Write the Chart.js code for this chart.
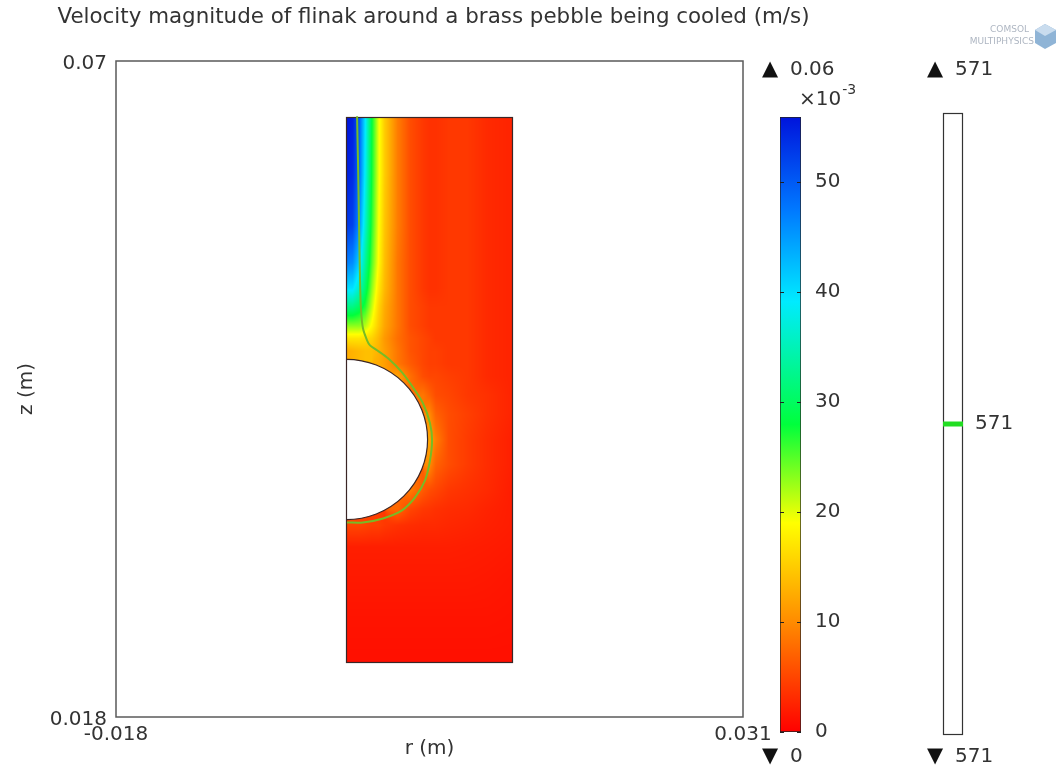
<!DOCTYPE html>
<html>
<head>
<meta charset="utf-8">
<script src="https://cdn.jsdelivr.net/npm/chart.js@4.4.1/dist/chart.umd.min.js"></script>
<style>
  html, body { margin: 0; padding: 0; background: #fff; }
  #wrap { position: relative; width: 1056px; height: 771px; overflow: hidden; }
  #wrap canvas { position: absolute; top: 0; }
</style>
</head>
<body>
<div id="wrap">
  <canvas id="plot" width="1056" height="771" style="left:0"></canvas>
  <canvas id="speedBar" width="120" height="771" style="left:760px"></canvas>
  <canvas id="levelBar" width="120" height="771" style="left:920px"></canvas>
</div>
<script>
/* ---------- axes and geometry (m) ---------- */
const rLimits = [-0.018, 0.031];
const zLimits = [0.018, 0.07];
const domainR = [0, 0.013];
const domainZ = [0.0223, 0.0656];
const pebbleCentre = [0, 0.04];
const pebbleRadius = 0.00635;

/* ---------- velocity magnitude samples ---------- */
// r and z in mm, speed in 1e-3 m/s; null = inside the pebble
const gridR = [0, 0.5, 1, 1.5, 2, 2.5, 3, 4, 5, 6, 6.5, 7, 8, 9.5, 11, 13];
const gridZ = [65.6, 61, 57, 54, 52, 50.5, 49, 48, 47, 46, 45, 43.5, 42, 40, 38, 36, 34.5, 33.2, 31.5, 29, 26, 22.3];
const n = null;
const speed = [
  [56, 55, 50, 39, 28, 20, 15, 9, 5.5, 4, 3.5, 3.5, 4, 4, 3, 2.5],
  [55, 54, 49, 38, 27.5, 20, 15, 9, 5.5, 4, 3.5, 3.5, 4, 4, 3, 2.5],
  [53, 52, 46, 36, 26.5, 19.5, 14.5, 9, 5.5, 4, 3.5, 3.5, 4, 4, 3, 2.5],
  [47, 46, 41, 33, 25, 19, 14, 8.5, 5.5, 4, 3.5, 3.5, 4, 4, 3, 2.5],
  [40, 40, 36, 30, 23, 17.5, 13.5, 8.5, 5.5, 4, 3.5, 3.5, 4, 4, 3, 2.5],
  [32, 32, 30, 26.5, 21, 16, 12.5, 8.5, 5.5, 4.5, 4, 4, 4, 4, 3, 2.5],
  [23, 23, 23, 21.5, 18.5, 15, 12, 8.5, 5.5, 4.5, 4, 4, 4, 4, 3, 2.5],
  [17, 17, 17, 16.5, 15.5, 13.5, 11, 8, 6, 5, 4.5, 4, 4, 4, 3, 2.5],
  [12.5, 13, 13.5, 14, 14, 13, 11.5, 8.5, 6, 5, 4.5, 4.5, 4, 4, 3, 2.5],
  [n, n, n, n, n, 12.5, 11.5, 8.5, 6.5, 5, 4.5, 4.5, 4, 4, 3, 2.5],
  [n, n, n, n, n, n, n, 12, 8, 5.5, 5, 5, 4.5, 4, 3, 2.5],
  [n, n, n, n, n, n, n, n, n, 8.5, 7, 5.5, 5, 4, 3.5, 2.5],
  [n, n, n, n, n, n, n, n, n, n, 10, 7, 5.5, 4.5, 3.5, 2.5],
  [n, n, n, n, n, n, n, n, n, n, 12, 9, 5.5, 4.2, 3.2, 2.2],
  [n, n, n, n, n, n, n, n, n, n, 10, 7, 5.5, 4.2, 3.2, 2.2],
  [n, n, n, n, n, n, n, n, 9, 6.5, 5.5, 5, 4, 3.5, 3, 2],
  [n, n, n, n, n, n, n, 7.5, 5, 4, 3.8, 3.5, 3.2, 3, 2.5, 2],
  [5, 5, 5, 4.8, 4.5, 4.5, 4, 3.5, 3.2, 3, 3, 3, 2.8, 2.6, 2.3, 2],
  [2.2, 2.2, 2.2, 2.2, 2.2, 2.2, 2.2, 2.2, 2.2, 2.2, 2.2, 2.2, 2.2, 2.1, 2, 1.8],
  [1.8, 1.8, 1.8, 1.8, 1.8, 1.8, 1.8, 1.8, 1.8, 1.8, 1.8, 1.8, 1.8, 1.8, 1.7, 1.5],
  [1.4, 1.4, 1.4, 1.4, 1.4, 1.4, 1.4, 1.4, 1.4, 1.4, 1.4, 1.4, 1.4, 1.4, 1.4, 1.3],
  [1.1, 1.1, 1.1, 1.1, 1.1, 1.1, 1.1, 1.1, 1.1, 1.1, 1.1, 1.1, 1.1, 1.1, 1.1, 1.1]
];
const speedRange = [0, 55.9];
const speedTicks = [0, 10, 20, 30, 40, 50];

/* ---------- temperature contour (K) ---------- */
const contourLevels = [571];
const contourR = [0.00084, 0.00091, 0.00099, 0.00107, 0.00115, 0.0013, 0.00162, 0.00185, 0.0024, 0.00326,
  0.00435, 0.00521, 0.00599, 0.00654, 0.0067, 0.00654, 0.00615, 0.00537, 0.00435, 0.00287, 0.0013, 0.00005];
const contourZ = [0.06562, 0.06213, 0.05737, 0.05262, 0.05024, 0.04881, 0.04786, 0.04746, 0.04707, 0.04643,
  0.04532, 0.04413, 0.04287, 0.04128, 0.03993, 0.03834, 0.03676, 0.03541, 0.03438, 0.03374, 0.03342, 0.03342];

/* ---------- styling ---------- */
const FONT = 'DejaVu Sans';
const INK = '#333';
const TITLE = 'Velocity magnitude of flinak around a brass pebble being cooled (m/s)';
// rainbow, red at zero speed to blue at the maximum
const cmap = [
  [0, [255, 0, 0]],
  [0.18, [255, 140, 0]],
  [0.34, [255, 255, 0]],
  [0.5, [0, 255, 60]],
  [0.7, [0, 235, 255]],
  [0.85, [0, 120, 255]],
  [1, [0, 20, 220]]
];

function speedColour(v) {
  let t = (v - speedRange[0]) / (speedRange[1] - speedRange[0]);
  t = Math.max(0, Math.min(1, t));
  for (let i = 0; i < cmap.length - 1; i++) {
    const [t0, c0] = cmap[i], [t1, c1] = cmap[i + 1];
    if (t <= t1) {
      const f = (t - t0) / (t1 - t0);
      return c0.map((c, k) => Math.round(c + (c1[k] - c) * f));
    }
  }
  return cmap[cmap.length - 1][1];
}

function bracket(grid, v) {
  const lo = Math.min(grid[0], grid[grid.length - 1]);
  const hi = Math.max(grid[0], grid[grid.length - 1]);
  v = Math.max(lo, Math.min(hi, v));
  for (let i = 0; i < grid.length - 1; i++) {
    const a = grid[i], b = grid[i + 1];
    if ((v - a) * (v - b) <= 0) return [i, (v - a) / (b - a)];
  }
  return [grid.length - 2, 1];
}

// bilinear shading between samples, skipping the ones inside the pebble
function sampleSpeed(r, z) {
  const [i, fr] = bracket(gridR, r);
  const [j, fz] = bracket(gridZ, z);
  const corners = [
    [speed[j][i], (1 - fr) * (1 - fz)],
    [speed[j][i + 1], fr * (1 - fz)],
    [speed[j + 1][i], (1 - fr) * fz],
    [speed[j + 1][i + 1], fr * fz]
  ];
  let sum = 0, wsum = 0;
  for (const [v, w] of corners) {
    if (v === null) continue;
    sum += v * w; wsum += w;
  }
  return wsum > 1e-9 ? sum / wsum : null;
}

function pebblePath(ctx, x, y) {
  const cx = x.getPixelForValue(pebbleCentre[0]);
  const cy = y.getPixelForValue(pebbleCentre[1]);
  const rx = x.getPixelForValue(pebbleCentre[0] + pebbleRadius) - cx;
  const ry = cy - y.getPixelForValue(pebbleCentre[1] + pebbleRadius);
  ctx.beginPath();
  ctx.ellipse(cx, cy, rx, ry, 0, -Math.PI / 2, Math.PI / 2);
}

const surfacePlugin = {
  id: 'surface',
  beforeDatasetsDraw(chart) {
    const { ctx, chartArea: a, scales: { x, y } } = chart;
    // plot frame
    ctx.save();
    ctx.strokeStyle = '#5a5a5a';
    ctx.lineWidth = 1.5;
    ctx.strokeRect(a.left, a.top, a.right - a.left, a.bottom - a.top);

    // velocity surface
    const x0 = Math.round(x.getPixelForValue(domainR[0]));
    const x1 = Math.round(x.getPixelForValue(domainR[1]));
    const y0 = Math.round(y.getPixelForValue(domainZ[1]));
    const y1 = Math.round(y.getPixelForValue(domainZ[0]));
    const w = x1 - x0, h = y1 - y0;
    const off = document.createElement('canvas');
    off.width = w; off.height = h;
    const octx = off.getContext('2d');
    const img = octx.createImageData(w, h);
    for (let j = 0; j < h; j++) {
      const z = y.getValueForPixel(y0 + j + 0.5) * 1000;
      for (let i = 0; i < w; i++) {
        const r = x.getValueForPixel(x0 + i + 0.5) * 1000;
        const v = sampleSpeed(r, z);
        if (v === null) continue;
        const c = speedColour(v);
        const k = (j * w + i) * 4;
        img.data[k] = c[0]; img.data[k + 1] = c[1]; img.data[k + 2] = c[2]; img.data[k + 3] = 255;
      }
    }
    octx.putImageData(img, 0, 0);
    ctx.drawImage(off, x0, y0);

    // pebble cut-out and domain boundary
    ctx.fillStyle = '#fff';
    pebblePath(ctx, x, y);
    ctx.closePath();
    ctx.fill();
    ctx.strokeStyle = '#3b2626';
    ctx.lineWidth = 1.2;
    ctx.strokeRect(x0 + 0.5, y0 + 0.5, w - 1, h - 1);
    pebblePath(ctx, x, y);
    ctx.stroke();
    ctx.restore();
  },
  afterDraw(chart) {
    const { ctx, chartArea: a } = chart;
    ctx.save();
    // plot title, a little left of the frame centre
    ctx.fillStyle = INK;
    ctx.font = '21.4px ' + FONT;
    ctx.textAlign = 'center';
    ctx.textBaseline = 'middle';
    ctx.fillText(TITLE, (a.left + a.right) / 2 + 4, 17);

    // product mark, top right
    ctx.fillStyle = '#aeb6c2';
    ctx.font = '9px ' + FONT;
    ctx.textAlign = 'right';
    ctx.fillText('COMSOL', 1029, 30);
    ctx.fillText('MULTIPHYSICS', 1034, 42);
    ctx.fillStyle = '#8fb4d6';
    ctx.beginPath();
    ctx.moveTo(1045, 24); ctx.lineTo(1056, 30); ctx.lineTo(1056, 43);
    ctx.lineTo(1045, 49); ctx.lineTo(1035, 43); ctx.lineTo(1035, 30);
    ctx.closePath();
    ctx.fill();
    ctx.fillStyle = '#c9dcee';
    ctx.beginPath();
    ctx.moveTo(1045, 24); ctx.lineTo(1056, 30); ctx.lineTo(1045, 36); ctx.lineTo(1035, 30);
    ctx.closePath();
    ctx.fill();
    ctx.restore();
  }
};

const tickFont = { family: FONT, size: 20 };

new Chart(document.getElementById('plot'), {
  type: 'scatter',
  data: {
    datasets: [{
      label: 'T = ' + contourLevels[0],
      data: contourR.map((r, i) => ({ x: r, y: contourZ[i] })),
      showLine: true,
      borderColor: 'rgb(118,188,38)',
      borderWidth: 2,
      pointRadius: 0,
      tension: 0.3
    }]
  },
  options: {
    responsive: false,
    animation: false,
    devicePixelRatio: 1,
    layout: { padding: { top: 61, right: 313, bottom: 0, left: 0 } },
    plugins: {
      legend: { display: false },
      tooltip: { enabled: false },
      title: { display: false }
    },
    scales: {
      x: {
        type: 'linear',
        min: rLimits[0],
        max: rLimits[1],
        afterBuildTicks: s => { s.ticks = rLimits.map(v => ({ value: v })); },
        afterFit: s => { s.height = 54; },
        grid: { display: false, drawTicks: false },
        border: { display: false },
        ticks: { font: tickFont, color: INK, padding: 6, maxRotation: 0, autoSkip: false, callback: v => String(v) },
        title: { display: true, text: 'r (m)', color: INK, font: tickFont, padding: { top: 0, bottom: 10 } }
      },
      y: {
        type: 'linear',
        min: zLimits[0],
        max: zLimits[1],
        afterBuildTicks: s => { s.ticks = zLimits.map(v => ({ value: v })); },
        afterFit: s => { s.width = 116; },
        grid: { display: false, drawTicks: false },
        border: { display: false },
        ticks: { font: tickFont, color: INK, padding: 9, labelOffset: 3, autoSkip: false, callback: v => String(v) },
        title: { display: true, text: 'z (m)', color: INK, font: tickFont, padding: { top: 15, bottom: 0 } }
      }
    }
  },
  plugins: [surfacePlugin]
});

/* ---------- colour legend for the speed ---------- */
function barGradient(chart) {
  const { ctx, chartArea, scales } = chart;
  if (!chartArea) return '#f00';
  const y = scales.y;
  const g = ctx.createLinearGradient(0, y.getPixelForValue(speedRange[0]), 0, y.getPixelForValue(speedRange[1]));
  for (const [t, c] of cmap) g.addColorStop(t, `rgb(${c[0]},${c[1]},${c[2]})`);
  return g;
}

function drawRangeMarks(ctx, a, dx, textDx, dyTop, dyBottom, maxText, minText) {
  ctx.save();
  ctx.fillStyle = '#111';
  ctx.font = '21px ' + FONT;
  ctx.textAlign = 'center';
  ctx.textBaseline = 'middle';
  ctx.fillText('\u25B2', a.left - dx, a.top - dyTop);
  ctx.fillText('\u25BC', a.left - dx, a.bottom + dyBottom);
  ctx.fillStyle = INK;
  ctx.font = '20px ' + FONT;
  ctx.textAlign = 'left';
  ctx.fillText(maxText, a.left + textDx, a.top - dyTop);
  ctx.fillText(minText, a.left + textDx, a.bottom + dyBottom);
  ctx.restore();
}

const speedBarDecor = {
  id: 'speedBarDecor',
  afterDatasetsDraw(chart) {
    const { ctx, chartArea: a, scales: { y } } = chart;
    ctx.save();
    ctx.strokeStyle = '#222';
    ctx.lineWidth = 1;
    for (const v of speedTicks) {
      const py = Math.round(y.getPixelForValue(v)) + 0.5;
      ctx.beginPath();
      ctx.moveTo(a.left, py); ctx.lineTo(a.left + 4, py);
      ctx.moveTo(a.right - 4, py); ctx.lineTo(a.right, py);
      ctx.stroke();
    }
    // exponent of the tick labels
    ctx.fillStyle = INK;
    ctx.textBaseline = 'alphabetic';
    ctx.font = '20px ' + FONT;
    ctx.fillText('\u00D710', a.left + 19, a.top - 12);
    const w = ctx.measureText('\u00D710').width;
    ctx.font = '14px ' + FONT;
    ctx.fillText('-3', a.left + 19 + w + 1, a.top - 23);
    ctx.restore();
    drawRangeMarks(ctx, a, 10, 10, 47, 25,
      (speedRange[1] / 1000).toFixed(2), String(speedRange[0]));
  }
};

new Chart(document.getElementById('speedBar'), {
  type: 'bar',
  data: {
    labels: [''],
    datasets: [{
      data: [speedRange],
      backgroundColor: ctx => barGradient(ctx.chart),
      borderColor: '#222',
      borderWidth: 1,
      borderSkipped: false,
      barPercentage: 1,
      categoryPercentage: 1
    }]
  },
  options: {
    responsive: false,
    animation: false,
    devicePixelRatio: 1,
    layout: { padding: { left: 20, top: 117, bottom: 39, right: 0 } },
    plugins: { legend: { display: false }, tooltip: { enabled: false } },
    scales: {
      x: { display: false },
      y: {
        position: 'right',
        min: speedRange[0],
        max: speedRange[1],
        afterBuildTicks: s => { s.ticks = speedTicks.map(v => ({ value: v })); },
        afterFit: s => { s.width = 79; },
        grid: { display: false, drawTicks: false },
        border: { display: false },
        ticks: { font: tickFont, color: INK, padding: 14 }
      }
    }
  },
  plugins: [speedBarDecor]
});

/* ---------- contour level legend ---------- */
const levelBarDecor = {
  id: 'levelBarDecor',
  beforeDatasetsDraw(chart) {
    const { ctx, chartArea: a } = chart;
    ctx.save();
    ctx.fillStyle = '#fff';
    ctx.fillRect(a.left, a.top, a.right - a.left, a.bottom - a.top);
    ctx.strokeStyle = '#333';
    ctx.lineWidth = 1.2;
    ctx.strokeRect(a.left + 0.5, a.top + 0.5, a.right - a.left - 1, a.bottom - a.top - 1);
    ctx.restore();
  },
  afterDraw(chart) {
    const lv = contourLevels;
    drawRangeMarks(chart.ctx, chart.chartArea, 8, 12, 43, 22,
      String(Math.max(...lv)), String(Math.min(...lv)));
  }
};

new Chart(document.getElementById('levelBar'), {
  type: 'scatter',
  data: {
    datasets: [{
      data: [{ x: 0, y: contourLevels[0] }, { x: 1, y: contourLevels[0] }],
      showLine: true,
      borderColor: '#22dd22',
      borderWidth: 5,
      pointRadius: 0
    }]
  },
  options: {
    responsive: false,
    animation: false,
    devicePixelRatio: 1,
    layout: { padding: { left: 23, top: 113, bottom: 36, right: 0 } },
    plugins: { legend: { display: false }, tooltip: { enabled: false } },
    scales: {
      x: { type: 'linear', display: false, min: 0, max: 1 },
      y: {
        type: 'linear',
        position: 'right',
        min: contourLevels[0] - 1,
        max: contourLevels[0] + 1,
        afterBuildTicks: s => { s.ticks = contourLevels.map(v => ({ value: v })); },
        afterFit: s => { s.width = 77; },
        grid: { display: false, drawTicks: false },
        border: { display: false },
        ticks: { font: tickFont, color: INK, padding: 12 }
      }
    }
  },
  plugins: [levelBarDecor]
});
</script>
</body>
</html>
